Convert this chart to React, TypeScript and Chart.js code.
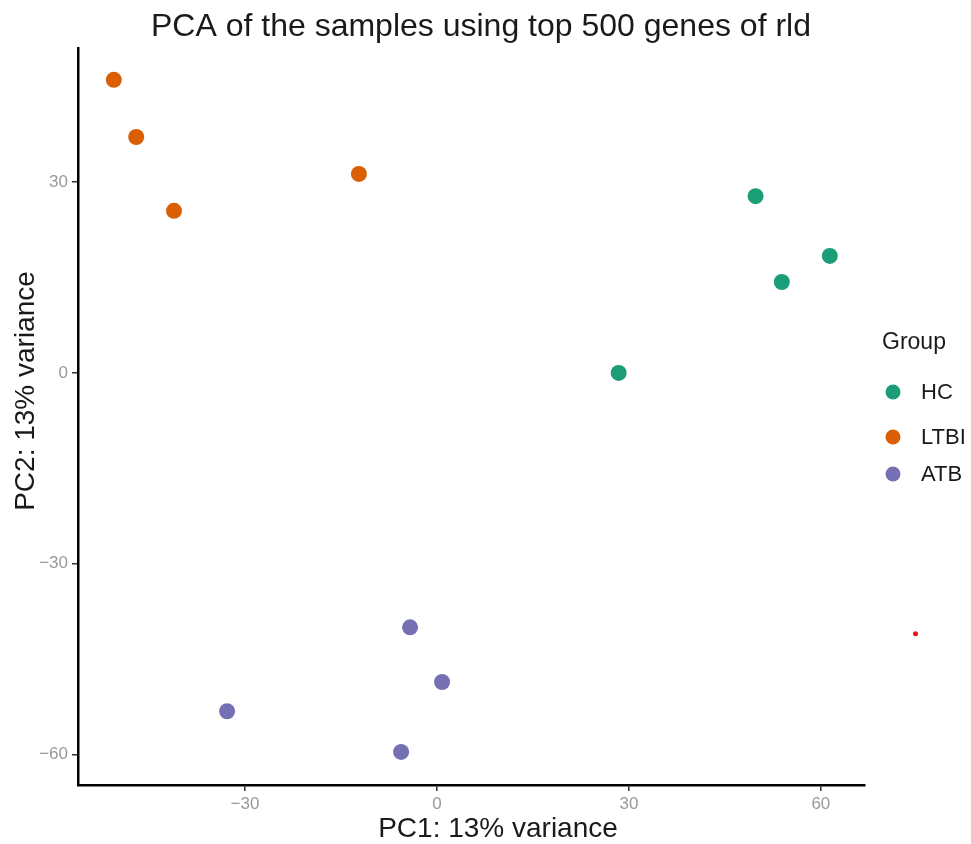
import { useEffect, useRef } from 'react';
import { Chart, registerables } from 'chart.js';

Chart.register(...registerables);

const groupNames = ['HC', 'LTBI', 'ATB'];
const groupColors = ['#1B9E77', '#D95F02', '#7570B3'];

const hcX = [49.8, 61.4, 53.9, 28.4];
const hcY = [27.8, 18.4, 14.3, 0.0];
const ltbiX = [-50.5, -47.0, -41.1, -12.2];
const ltbiY = [46.1, 37.1, 25.5, 31.3];
const atbX = [-4.2, 0.8, -32.8, -5.6];
const atbY = [-40.0, -48.6, -53.2, -59.6];
const strayX = [74.8];
const strayY = [-41.0];

const xTicks = [-30, 0, 30, 60];
const yTicks = [-60, -30, 0, 30];

const titleText = 'PCA of the samples using top 500 genes of rld';
const xTitle = 'PC1: 13% variance';
const yTitle = 'PC2: 13% variance';
const legendTitle = 'Group';

const FONT = "'Liberation Sans', Arial, sans-serif";

const pts = (xs: number[], ys: number[]) => xs.map((x, i) => ({ x, y: ys[i] }));

const fmt = (v: number) => (v < 0 ? '\u2212' + Math.abs(v) : String(v));

const textPlugin = {
  id: 'texts',
  afterDraw(chart: any) {
    const ctx = chart.ctx;
    const ca = chart.chartArea;
    ctx.save();
    // stray red mark, placed through the chart's own scales
    const sx = chart.scales.x;
    const sy = chart.scales.y;
    strayX.forEach((v, i) => {
      ctx.beginPath();
      ctx.arc(sx.getPixelForValue(v), sy.getPixelForValue(strayY[i]), 2.5, 0, Math.PI * 2);
      ctx.fillStyle = '#EE1111';
      ctx.fill();
    });
    ctx.fillStyle = '#1a1a1a';
    // title
    ctx.font = `300 32px ${FONT}`;
    ctx.textAlign = 'center';
    ctx.textBaseline = 'alphabetic';
    ctx.fillText(titleText, 481, 36);
    // x title
    ctx.font = `300 28px ${FONT}`;
    ctx.fillText(xTitle, 498, 837);
    // y title
    ctx.save();
    ctx.translate(34, 391);
    ctx.rotate(-Math.PI / 2);
    ctx.fillText(yTitle, 0, 0);
    ctx.restore();
    // legend
    ctx.textAlign = 'left';
    ctx.font = `300 23px ${FONT}`;
    ctx.textBaseline = 'middle';
    ctx.fillText(legendTitle, ca.right + 17, 343);
    const ys = [392, 437, 474];
    ctx.font = `300 22px ${FONT}`;
    groupNames.forEach((g, i) => {
      ctx.beginPath();
      ctx.arc(ca.right + 28, ys[i], 7.5, 0, Math.PI * 2);
      ctx.fillStyle = groupColors[i];
      ctx.fill();
      ctx.fillStyle = '#1a1a1a';
      ctx.fillText(g, ca.right + 56, ys[i] + 1);
    });
    ctx.restore();
  },
};

export default function App() {
  const ref = useRef<HTMLCanvasElement>(null);
  useEffect(() => {
    document.body.style.margin = '0';
    const ds = [
      { label: 'HC', data: pts(hcX, hcY), color: groupColors[0] },
      { label: 'LTBI', data: pts(ltbiX, ltbiY), color: groupColors[1] },
      { label: 'ATB', data: pts(atbX, atbY), color: groupColors[2] },
    ];
    const chart = new Chart(ref.current!, {
      type: 'scatter',
      data: {
        datasets: ds.map((d) => ({
          label: d.label,
          data: d.data,
          backgroundColor: d.color,
          borderColor: d.color,
          borderWidth: 0,
          pointRadius: 8,
          pointHoverRadius: 8,
          clip: false as any,
        })),
      },
      options: {
        responsive: false,
        animation: false,
        events: [],
        layout: { padding: { top: 48, right: 106, left: 0, bottom: 0 } },
        plugins: { legend: { display: false }, title: { display: false }, tooltip: { enabled: false } },
        scales: {
          x: {
            type: 'linear',
            min: -56.1,
            max: 66.9,
            afterBuildTicks: (s: any) => { s.ticks = xTicks.map((v) => ({ value: v })); },
            afterFit: (s: any) => { s.height = 844 - 785; },
            grid: { drawOnChartArea: false, drawTicks: true, tickLength: 6, color: '#333', lineWidth: 1.5 },
            border: { display: true, color: '#000', width: 2.5 },
            ticks: { color: '#999', font: { family: FONT, size: 17 }, padding: 3, callback: (v: any) => fmt(Number(v)), maxRotation: 0 },
          },
          y: {
            type: 'linear',
            min: -64.8,
            max: 51.1,
            afterBuildTicks: (s: any) => { s.ticks = yTicks.map((v) => ({ value: v })); },
            afterFit: (s: any) => { s.width = 78; },
            grid: { drawOnChartArea: false, drawTicks: true, tickLength: 6, color: '#333', lineWidth: 1.5 },
            border: { display: true, color: '#000', width: 2.5 },
            ticks: { color: '#999', font: { family: FONT, size: 17 }, padding: 4, callback: (v: any) => fmt(Number(v)) },
          },
        },
      },
      plugins: [textPlugin],
    });
    return () => chart.destroy();
  }, []);
  return (
    <div style={{ width: 971, height: 844, background: '#fff' }}>
      <canvas ref={ref} width={971} height={844} style={{ display: 'block' }} />
    </div>
  );
}
